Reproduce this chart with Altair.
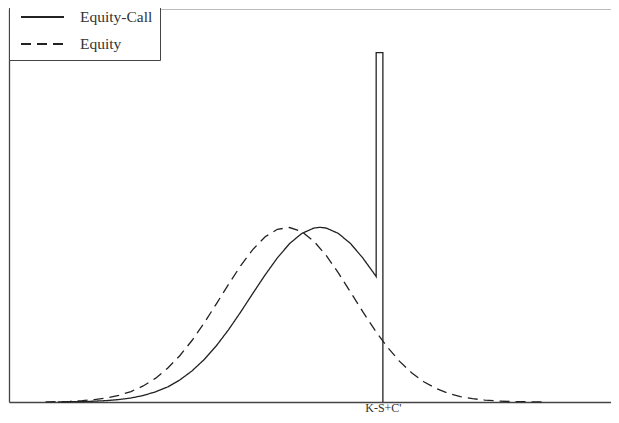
import altair as alt
import pandas as pd

# Series names (legend order)
series = ["Equity-Call", "Equity"]

# Equity (dashed) distribution
eq_x = [6, 8, 10, 12, 14, 16, 18, 20, 22, 24, 26, 28, 30, 32, 34, 36, 38, 40, 42, 44,
        46, 48, 50, 52, 54, 56, 58, 60, 62, 64, 66, 68, 70, 72, 74, 76, 78, 80, 82, 84, 86, 88]
eq_y = [0.001, 0.002, 0.004, 0.008, 0.014, 0.023, 0.038, 0.060, 0.092, 0.135, 0.193, 0.265,
        0.352, 0.452, 0.562, 0.674, 0.781, 0.874, 0.946, 0.989, 0.999, 0.976, 0.920, 0.839,
        0.739, 0.629, 0.517, 0.411, 0.316, 0.234, 0.168, 0.116, 0.078, 0.050, 0.031, 0.019,
        0.011, 0.006, 0.003, 0.002, 0.001, 0.0005]

# Equity-Call (solid) distribution, truncated at K-S+C' with a point mass there
ec_x = [8, 10, 12, 14, 16, 18, 20, 22, 24, 26, 28, 30, 32, 34, 36, 38, 40, 42, 44, 46,
        48, 50, 51, 52, 54, 56, 58, 60, 60.2, 60.2, 61.3, 61.3]
ec_y = [0.001, 0.0014, 0.0026, 0.0047, 0.008, 0.014, 0.023, 0.037, 0.058, 0.086, 0.126,
        0.178, 0.243, 0.322, 0.414, 0.516, 0.623, 0.728, 0.825, 0.907, 0.965, 0.996, 1.0,
        0.996, 0.965, 0.907, 0.825, 0.728, 0.718, 2.0, 2.0, 0.0]

strike = 61.3
strike_label = "K-S+C'"

rows = []
for i, (x, y) in enumerate(zip(ec_x, ec_y)):
    rows.append({"series": "Equity-Call", "x": x, "y": y, "order": i})
for i, (x, y) in enumerate(zip(eq_x, eq_y)):
    rows.append({"series": "Equity", "x": x, "y": y, "order": i})
df = pd.DataFrame(rows)

xscale = alt.Scale(domain=[0, 98.7], nice=False, zero=False)
yscale = alt.Scale(domain=[0, 2.25], nice=False)

lines = alt.Chart(df).mark_line(color="#222", strokeWidth=1.3).encode(
    x=alt.X("x:Q", scale=xscale,
            axis=alt.Axis(orient="bottom", title=None, values=[strike],
                          labelExpr='"' + strike_label + '"', ticks=False, grid=False,
                          domainColor="#444", domainWidth=1.3,
                          labelFont="Liberation Serif", labelFontSize=12,
                          labelColor="#333", labelPadding=0)),
    y=alt.Y("y:Q", scale=yscale,
            axis=alt.Axis(title=None, labels=False, ticks=False, grid=False,
                          domainColor="#444", domainWidth=1.3)),
    strokeDash=alt.StrokeDash(
        "series:N",
        scale=alt.Scale(domain=series, range=[[1, 0], [10, 6]]),
        legend=alt.Legend(title=None, orient="none", legendX=0, legendY=-10,
                          padding=7, rowPadding=7,
                          symbolType="M-0.6,0H3.7", symbolSize=400,
                          symbolStrokeWidth=2, symbolStrokeColor="#222",
                          symbolFillColor="transparent",
                          labelFont="Liberation Serif", labelFontSize=15.5,
                          labelColor="#333", labelOffset=42,
                          strokeColor="#444", fillColor="white", cornerRadius=0),
    ),
    order="order:Q",
)

top = alt.Chart(df).mark_point(opacity=0).encode(
    x=alt.X("x:Q", scale=xscale,
            axis=alt.Axis(orient="top", title=None, labels=False, ticks=False,
                          grid=False, domainColor="#bbb", domainWidth=1)),
    y=alt.Y("y:Q", scale=yscale),
)

chart = alt.layer(lines, top).resolve_axis(x="independent").properties(
    width=602, height=393,
    autosize=alt.AutoSizeParams(type="none"),
    padding={"left": 1, "top": 1, "right": 0, "bottom": 13},
    background="white",
).configure_view(strokeWidth=0)

chart.save("out.html", embed_options={"renderer": "svg", "actions": False})
